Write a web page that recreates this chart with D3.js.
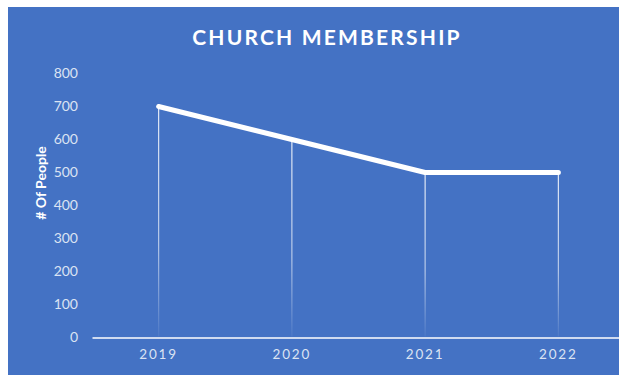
<!DOCTYPE html>
<html>
<head>
<meta charset="utf-8">
<script src="https://cdn.jsdelivr.net/npm/d3@7"></script>
<style>
  body { margin: 0; background: #fff; }
  svg { display: block; }
</style>
</head>
<body>
<div id="chart"></div>
<script>
// data
var years = ['2019', '2020', '2021', '2022']
var members = [700, 600, 500, 500]
var yTicks = [0, 100, 200, 300, 400, 500, 600, 700, 800]

var width = 619
var height = 375
var margin = { top: 73.5, right: -6, bottom: 37.5, left: 92 }
var innerW = width - margin.left - margin.right
var innerH = height - margin.top - margin.bottom

var svg = d3
  .select('#chart')
  .append('svg')
  .attr('width', width)
  .attr('height', height)

// chart background
svg
  .append('rect')
  .attr('x', 8)
  .attr('y', 7)
  .attr('width', width - 8)
  .attr('height', height - 7)
  .attr('fill', '#4472C4')

var defs = svg.append('defs')
var grad = defs
  .append('linearGradient')
  .attr('id', 'dropFade')
  .attr('gradientUnits', 'objectBoundingBox')
  .attr('x1', 0).attr('y1', 0).attr('x2', 0).attr('y2', 1)
grad.append('stop').attr('offset', '0%').attr('stop-color', '#fff').attr('stop-opacity', 0.85)
grad.append('stop').attr('offset', '60%').attr('stop-color', '#fff').attr('stop-opacity', 0.6)
grad.append('stop').attr('offset', '100%').attr('stop-color', '#fff').attr('stop-opacity', 0.05)

svg
  .append('text')
  .attr('x', 327)
  .attr('y', 45)
  .attr('text-anchor', 'middle')
  .style('font-family', 'Lato, "Open Sans", sans-serif')
  .style('font-weight', 'bold')
  .style('font-size', '21px')
  .style('letter-spacing', '2.2px')
  .style('fill', '#ffffff')
  .text('CHURCH MEMBERSHIP')

var g = svg
  .append('g')
  .attr('transform', 'translate(' + margin.left + ',' + margin.top + ')')

var x = d3.scaleBand().range([0, innerW]).domain(years)
var y = d3.scaleLinear().range([innerH, 0]).domain([0, 800])

// y labels
g.append('g')
  .call(d3.axisLeft(y).tickValues(yTicks).tickSize(0).tickPadding(14))
  .call(function (a) { a.select('.domain').remove() })
  .selectAll('text')
  .style('font-family', 'Lato, "Open Sans", sans-serif')
  .style('font-size', '14px')
  .style('fill', '#dbe3f3')

// x axis
g.append('g')
  .attr('transform', 'translate(0,' + innerH + ')')
  .call(d3.axisBottom(x).tickSize(0).tickPadding(12))
  .call(function (a) {
    a.select('.domain').attr('stroke', '#ffffff').attr('stroke-width', 1.5)
  })
  .selectAll('text')
  .style('font-family', 'Lato, "Open Sans", sans-serif')
  .style('font-size', '13.5px')
  .style('letter-spacing', '1.8px')
  .style('fill', '#dbe3f3')

var data = years.map(function (yr, i) { return { year: yr, value: members[i] } })

// drop lines
g.selectAll('.drop')
  .data(data)
  .enter()
  .append('rect')
  .attr('class', 'drop')
  .attr('x', function (d) { return x(d.year) + x.bandwidth() / 2 - 0.6 })
  .attr('y', function (d) { return y(d.value) })
  .attr('width', 1.2)
  .attr('height', function (d) { return innerH - y(d.value) - 1 })
  .attr('fill', 'url(#dropFade)')

var line = d3
  .line()
  .x(function (d) { return x(d.year) + x.bandwidth() / 2 })
  .y(function (d) { return y(d.value) })

g.append('path')
  .datum(data)
  .attr('d', line)
  .attr('fill', 'none')
  .attr('stroke', '#ffffff')
  .attr('stroke-width', 5)
  .attr('stroke-linecap', 'round')
  .attr('stroke-linejoin', 'round')

// axis title
svg
  .append('text')
  .attr('transform', 'translate(46,183) rotate(-90)')
  .attr('text-anchor', 'middle')
  .style('font-family', 'Lato, "Open Sans", sans-serif')
  .style('font-weight', 'bold')
  .style('font-size', '14px')
  .style('fill', '#ffffff')
  .text('# Of People')
</script>
</body>
</html>
